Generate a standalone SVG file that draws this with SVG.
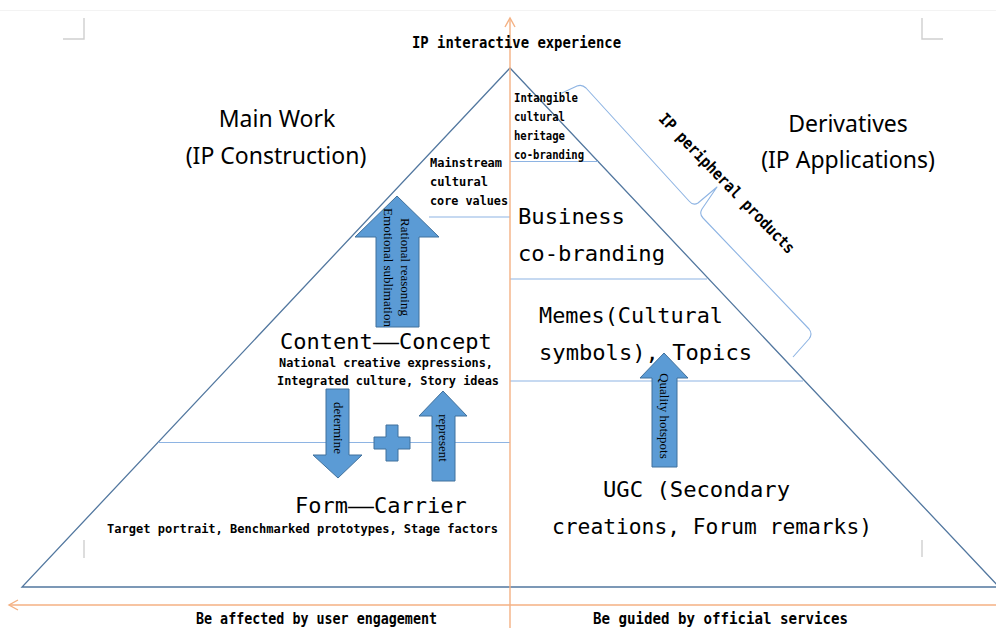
<svg xmlns="http://www.w3.org/2000/svg" width="996" height="628" viewBox="0 0 996 628">
  <style>
    .edge { fill: none; stroke: #52779f; stroke-width: 1.3; }
    .tier { fill: none; stroke: #8eb4e3; stroke-width: 1.1; }
    .axis { fill: none; stroke: #f4b183; stroke-width: 1.4; }
    .mark { fill: none; stroke: #cfcfcf; stroke-width: 1.4; }
    .brace { fill: none; stroke: #8eb4e3; stroke-width: 1.1; stroke-linejoin: round; }
    .block { fill: #5b9bd5; stroke: #41719c; stroke-width: 1; }
    .mono { font-family: "DejaVu Sans Mono", "Liberation Mono", monospace; fill: #000; }
    .h { font-size: 22px; }
    .s { font-size: 13px; font-weight: bold; }
    .xs { font-size: 11.5px; font-weight: bold; }
    .ax { font-size: 16px; font-weight: bold; }
    .t { font-family: "Noto Sans", "Liberation Sans", sans-serif; font-size: 23px; fill: #000; }
    .v { font-family: "Liberation Serif", serif; font-size: 13px; fill: #000; }
  </style>

  <!-- page frame hints -->
  <g id="page-marks">
    <line x1="0" y1="10.5" x2="996" y2="10.5" stroke="#f3f3f3" stroke-width="1"/>
    <path class="mark" d="M84,18 V39 H63"/>
    <path class="mark" d="M922,18 V39 H943"/>
    <path class="mark" d="M84,540 V558"/>
    <path class="mark" d="M922,540 V557"/>
  </g>

  <!-- pyramid outline and tier dividers -->
  <g id="pyramid">
    <polygon class="edge" points="510,68 999,587 22,587"/>
    <line class="tier" x1="510" y1="161.5" x2="598" y2="161.5"/>
    <line class="tier" x1="429" y1="217" x2="510" y2="217"/>
    <line class="tier" x1="510" y1="279" x2="707" y2="279"/>
    <line class="tier" x1="510" y1="381" x2="803" y2="381"/>
    <line class="tier" x1="158" y1="442.5" x2="510" y2="442.5"/>
  </g>

  <!-- axes and block arrows -->
  <g id="connectors">
    <line class="axis" x1="510" y1="628" x2="510" y2="18"/>
    <polyline class="axis" points="505,27 510,18 515,27"/>
    <line class="axis" x1="996" y1="605" x2="9" y2="605"/>
    <polyline class="axis" points="18,600 9,605 18,610"/>

    <g id="arrow-sublimation">
      <polygon class="block" points="397,196 439,237 419,237 419,327 376,327 376,237 355,237"/>
      <text class="v" transform="translate(401,267) rotate(90)" text-anchor="middle">Rational reasoning</text>
      <text class="v" transform="translate(384,267.5) rotate(90)" text-anchor="middle">Emotional sublimation</text>
    </g>
    <g id="arrow-determine">
      <polygon class="block" points="326,389 349,389 349,455 362,455 338,478 313,455 326,455"/>
      <text class="v" transform="translate(334,428) rotate(90)" text-anchor="middle">determine</text>
    </g>
    <g id="plus">
      <polygon class="block" points="386,425 398,425 398,437 410,437 410,449 398,449 398,461 386,461 386,449 374,449 374,437 386,437"/>
    </g>
    <g id="arrow-represent">
      <polygon class="block" points="443,391 467,416 455,416 455,481 432,481 432,416 419,416"/>
      <text class="v" transform="translate(439,438) rotate(90)" text-anchor="middle">represent</text>
    </g>
    <g id="arrow-hotspots">
      <polygon class="block" points="664,353 688,378 677,378 677,467 652,467 652,378 640,378"/>
      <text class="v" transform="translate(660,416) rotate(90)" text-anchor="middle">Quality hotspots</text>
    </g>
  </g>

  <!-- axis captions -->
  <g id="axis-top">
    <text class="mono ax" x="412" y="48" textLength="209" lengthAdjust="spacingAndGlyphs">IP interactive experience</text>
  </g>
  <g id="axis-left">
    <text class="mono ax" x="196" y="624" textLength="241" lengthAdjust="spacingAndGlyphs">Be affected by user engagement</text>
  </g>
  <g id="axis-right">
    <text class="mono ax" x="593" y="624" textLength="255" lengthAdjust="spacingAndGlyphs">Be guided by official services</text>
  </g>

  <!-- side headings -->
  <g id="main-work">
    <text class="t" x="277" y="127" text-anchor="middle">Main Work</text>
    <text class="t" x="276" y="164" text-anchor="middle">(IP Construction)</text>
  </g>
  <g id="derivatives">
    <text class="t" x="848" y="132" text-anchor="middle">Derivatives</text>
    <text class="t" x="848" y="168" text-anchor="middle">(IP Applications)</text>
  </g>

  <!-- left side tiers -->
  <g id="core-values">
    <text class="mono s" x="430" y="167" textLength="72" lengthAdjust="spacingAndGlyphs">Mainstream</text>
    <text class="mono s" x="430" y="186" textLength="58" lengthAdjust="spacingAndGlyphs">cultural</text>
    <text class="mono s" x="430" y="205" textLength="78" lengthAdjust="spacingAndGlyphs">core values</text>
  </g>
  <g id="content-concept">
    <text class="mono h" y="349"><tspan x="280">Content</tspan><tspan x="373" textLength="26" lengthAdjust="spacingAndGlyphs">—</tspan><tspan x="399">Concept</tspan></text>
    <text class="mono s" x="279" y="367" textLength="214" lengthAdjust="spacingAndGlyphs">National creative expressions,</text>
    <text class="mono s" x="277" y="385" textLength="222" lengthAdjust="spacingAndGlyphs">Integrated culture, Story ideas</text>
  </g>
  <g id="form-carrier">
    <text class="mono h" y="513"><tspan x="295">Form</tspan><tspan x="348" textLength="26" lengthAdjust="spacingAndGlyphs">—</tspan><tspan x="374">Carrier</tspan></text>
    <text class="mono s" x="107" y="533" textLength="391" lengthAdjust="spacingAndGlyphs">Target portrait, Benchmarked prototypes, Stage factors</text>
  </g>

  <!-- right side tiers -->
  <g id="heritage-cobranding">
    <text class="mono xs" x="514" y="101.5" textLength="64" lengthAdjust="spacingAndGlyphs">Intangible</text>
    <text class="mono xs" x="514" y="120.5" textLength="51" lengthAdjust="spacingAndGlyphs">cultural</text>
    <text class="mono xs" x="514" y="139.5" textLength="51" lengthAdjust="spacingAndGlyphs">heritage</text>
    <text class="mono xs" x="514" y="158.5" textLength="70" lengthAdjust="spacingAndGlyphs">co-branding</text>
  </g>
  <g id="business-cobranding">
    <text class="mono h" x="518" y="224" textLength="107" lengthAdjust="spacingAndGlyphs">Business</text>
    <text class="mono h" x="518" y="261" textLength="147" lengthAdjust="spacingAndGlyphs">co-branding</text>
  </g>
  <g id="memes-topics">
    <text class="mono h" x="539" y="323" textLength="184" lengthAdjust="spacingAndGlyphs">Memes(Cultural</text>
    <text class="mono h" x="539" y="360" textLength="213" lengthAdjust="spacingAndGlyphs">symbols), Topics</text>
  </g>
  <g id="ugc">
    <text class="mono h" x="603" y="497" textLength="187" lengthAdjust="spacingAndGlyphs">UGC (Secondary</text>
    <text class="mono h" x="552" y="534" textLength="320" lengthAdjust="spacingAndGlyphs">creations, Forum remarks)</text>
  </g>

  <!-- peripheral products bracket -->
  <g id="peripheral-products">
    <path class="brace" d="M562,93 L577,86 Q582,84 586,88 L689,201 Q693,206 698,203 L717,187 L702,209 Q699,214 703,218 L809,329 Q813,334 809,339 L793,357"/>
    <text class="mono ax" transform="translate(723,187) rotate(46)" text-anchor="middle" textLength="188" lengthAdjust="spacingAndGlyphs">IP peripheral products</text>
  </g>
</svg>
